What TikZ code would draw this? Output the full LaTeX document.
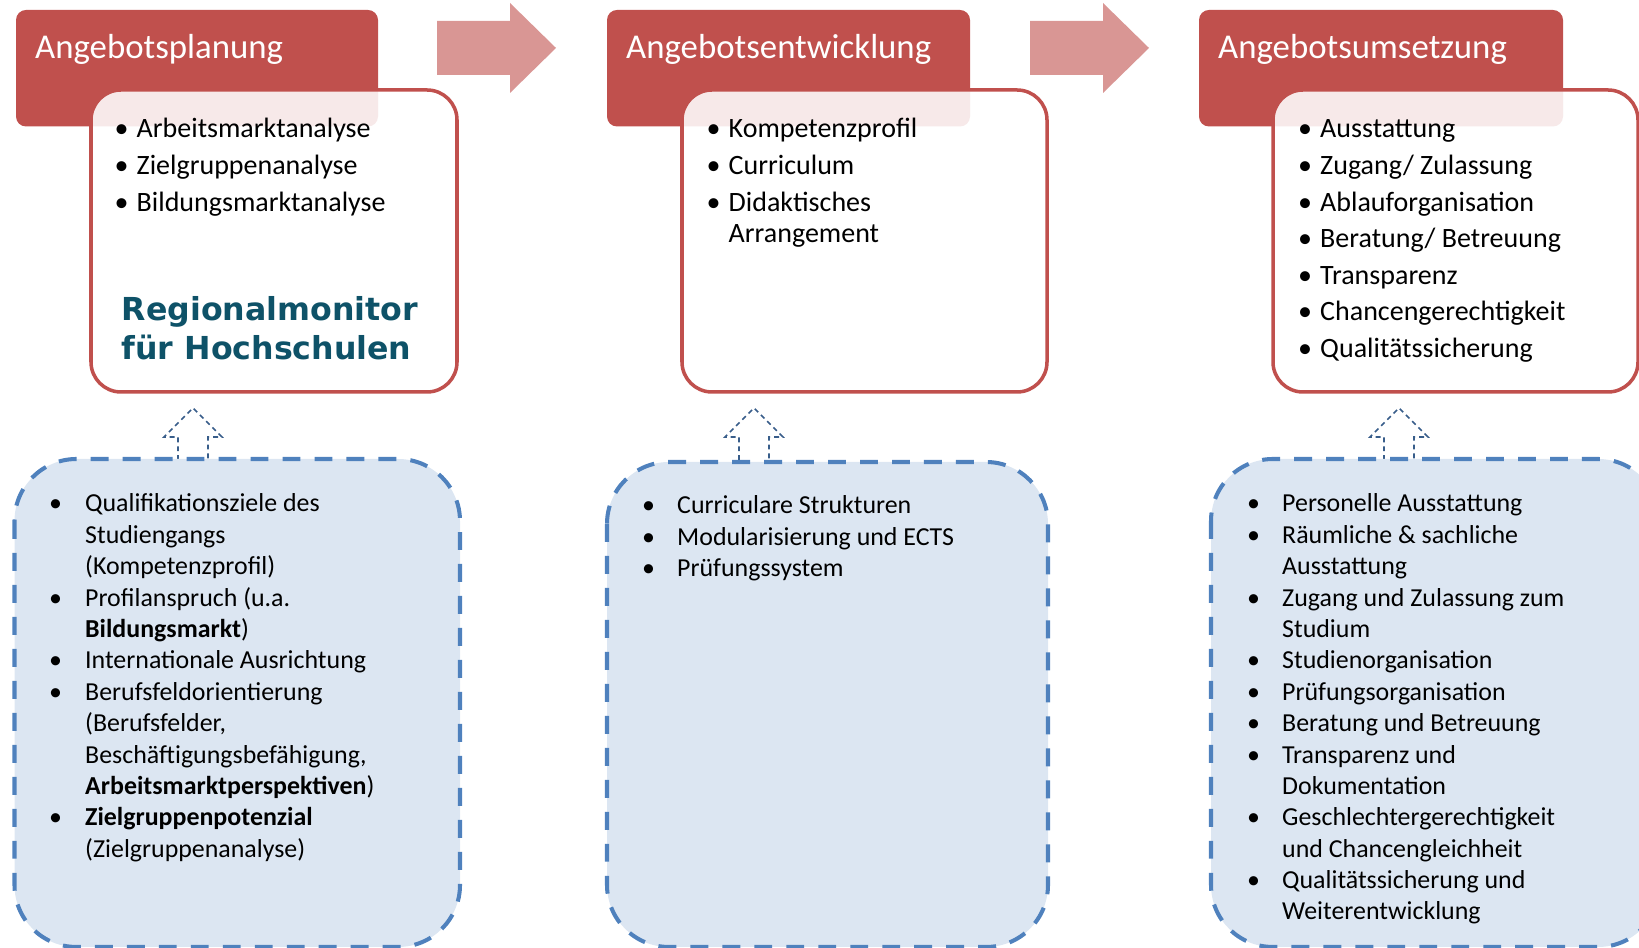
\documentclass[tikz,border=0pt]{standalone}
\usepackage{fontspec}
\setmainfont{Carlito}
\newfontfamily\regfont{DejaVu Sans}
\usepackage{xcolor}
\usepackage{array}
\usetikzlibrary{arrows.meta}

\definecolor{hdrred}{RGB}{192,80,77}
\definecolor{flowred}{RGB}{217,150,148}
\definecolor{hintblue}{RGB}{79,129,189}
\definecolor{hintfill}{RGB}{220,230,242}
\definecolor{arrowblue}{RGB}{56,93,138}
\definecolor{monitorteal}{RGB}{14,82,104}

\begin{document}
\begin{tikzpicture}[>=Stealth,
    hdrbox/.style={fill=hdrred, rounded corners=0.1cm},
    cardbox/.style={draw=hdrred, line width=1pt, fill=white, fill opacity=0.88, rounded corners=0.3cm},
    hintbox/.style={draw=hintblue, fill=hintfill, line width=1.15pt, dash pattern=on 5.1pt off 4pt, rounded corners=0.62cm},
    flowarrow/.style={fill=flowred},
    hintarrow/.style={draw=arrowblue, line width=0.45pt, dash pattern=on 1.4pt off 1.1pt},
    titletext/.style={anchor=base west, inner sep=0pt, text=white, font=\fontsize{9.9}{12}\selectfont},
    cardtext/.style={anchor=base west, inner sep=0pt, font=\fontsize{7.97}{8.93}\selectfont},
    hinttext/.style={anchor=base west, inner sep=0pt, font=\fontsize{7.37}{8.93}\selectfont}]
    \clip (0,0) rectangle (16.39,-9.48);

    % Flow arrows between the stages
    \foreach \x in {4.37,10.30}
        \fill[flowarrow] (\x,-0.21) -- ++(0.73,0) -- ++(0,0.18) -- ++(0.46,-0.45) -- ++(-0.46,-0.45) -- ++(0,0.18) -- ++(-0.73,0) -- cycle;

    % Stage 1: Angebotsplanung
    \fill[hdrbox] (0.16,-0.10) rectangle (3.78,-1.265);
    \draw[cardbox] (0.91,-0.90) rectangle (4.57,-3.92);
    \node[titletext] (plantitle) at (0.345,-0.59) {Angebotsplanung};
    \node[cardtext] (planlist) at (1.14,-1.38) {\begin{tabular}[t]{@{}p{0.22cm}@{}l@{}}
        • & Arbeitsmarktanalyse\\[1.48pt]
        • & Zielgruppenanalyse\\[1.48pt]
        • & Bildungsmarktanalyse
    \end{tabular}};
    \node[anchor=base west, inner sep=0pt, text=monitorteal, font=\regfont\bfseries\fontsize{9}{11}\selectfont] (monitor) at (1.21,-3.21)
        {\begin{tabular}[t]{@{}l@{}}Regionalmonitor\\für Hochschulen\end{tabular}};

    % Stage 2: Angebotsentwicklung
    \fill[hdrbox] (6.07,-0.10) rectangle (9.70,-1.265);
    \draw[cardbox] (6.82,-0.90) rectangle (10.47,-3.92);
    \node[titletext] (devtitle) at (6.255,-0.59) {Angebotsentwicklung};
    \node[cardtext] (devlist) at (7.06,-1.38) {\begin{tabular}[t]{@{}p{0.22cm}@{}l@{}}
        • & Kompetenzprofil\\[1.48pt]
        • & Curriculum\\[1.48pt]
        • & Didaktisches\\
          & Arrangement
    \end{tabular}};

    % Stage 3: Angebotsumsetzung
    \fill[hdrbox] (11.99,-0.10) rectangle (15.63,-1.265);
    \draw[cardbox] (12.73,-0.90) rectangle (16.38,-3.92);
    \node[titletext] (impltitle) at (12.175,-0.59) {Angebotsumsetzung};
    \node[cardtext] (impllist) at (12.975,-1.38) {\begin{tabular}[t]{@{}p{0.22cm}@{}l@{}}
        • & Ausstattung\\[1.48pt]
        • & Zugang/ Zulassung\\[1.48pt]
        • & Ablauforganisation\\[1.48pt]
        • & Beratung/ Betreuung\\[1.48pt]
        • & Transparenz\\[1.48pt]
        • & Chancengerechtigkeit\\[1.48pt]
        • & Qualitätssicherung
    \end{tabular}};

    % Hint arrows from the criteria up to the stages
    \foreach \x in {1.93,7.54,13.99}
        \draw[hintarrow] (\x-0.15,-4.60) -- ++(0,0.23) -- ++(-0.14,0) -- (\x,-4.08) -- (\x+0.29,-4.37) -- ++(-0.14,0) -- ++(0,-0.23);

    % Criteria boxes
    \draw[hintbox] (0.145,-4.59) rectangle (4.60,-9.47);
    \draw[hintbox] (6.07,-4.62) rectangle (10.48,-9.47);
    \draw[hintbox] (12.11,-4.59) rectangle (16.60,-9.47);

    \node[hinttext] (plancrit) at (0.485,-5.12) {\begin{tabular}[t]{@{}p{0.36cm}@{}l@{}}
        • & Qualifikationsziele des\\
          & Studiengangs\\
          & (Kompetenzprofil)\\
        • & Profilanspruch (u.a.\\
          & \textbf{Bildungsmarkt})\\
        • & Internationale Ausrichtung\\
        • & Berufsfeldorientierung\\
          & (Berufsfelder,\\
          & Beschäftigungsbefähigung,\\
          & \textbf{Arbeitsmarktperspektiven})\\
        • & \textbf{Zielgruppenpotenzial}\\
          & (Zielgruppenanalyse)
    \end{tabular}};
    \node[hinttext] (devcrit) at (6.415,-5.14) {\begin{tabular}[t]{@{}p{0.35cm}@{}l@{}}
        • & Curriculare Strukturen\\
        • & Modularisierung und ECTS\\
        • & Prüfungssystem
    \end{tabular}};
    \node[hinttext] (implcrit) at (12.465,-5.12) {\begin{tabular}[t]{@{}p{0.35cm}@{}l@{}}
        • & Personelle Ausstattung\\
        • & Räumliche \& sachliche\\
          & Ausstattung\\
        • & Zugang und Zulassung zum\\
          & Studium\\
        • & Studienorganisation\\
        • & Prüfungsorganisation\\
        • & Beratung und Betreuung\\
        • & Transparenz und\\
          & Dokumentation\\
        • & Geschlechtergerechtigkeit\\
          & und Chancengleichheit\\
        • & Qualitätssicherung und\\
          & Weiterentwicklung
    \end{tabular}};
\end{tikzpicture}
\end{document}
